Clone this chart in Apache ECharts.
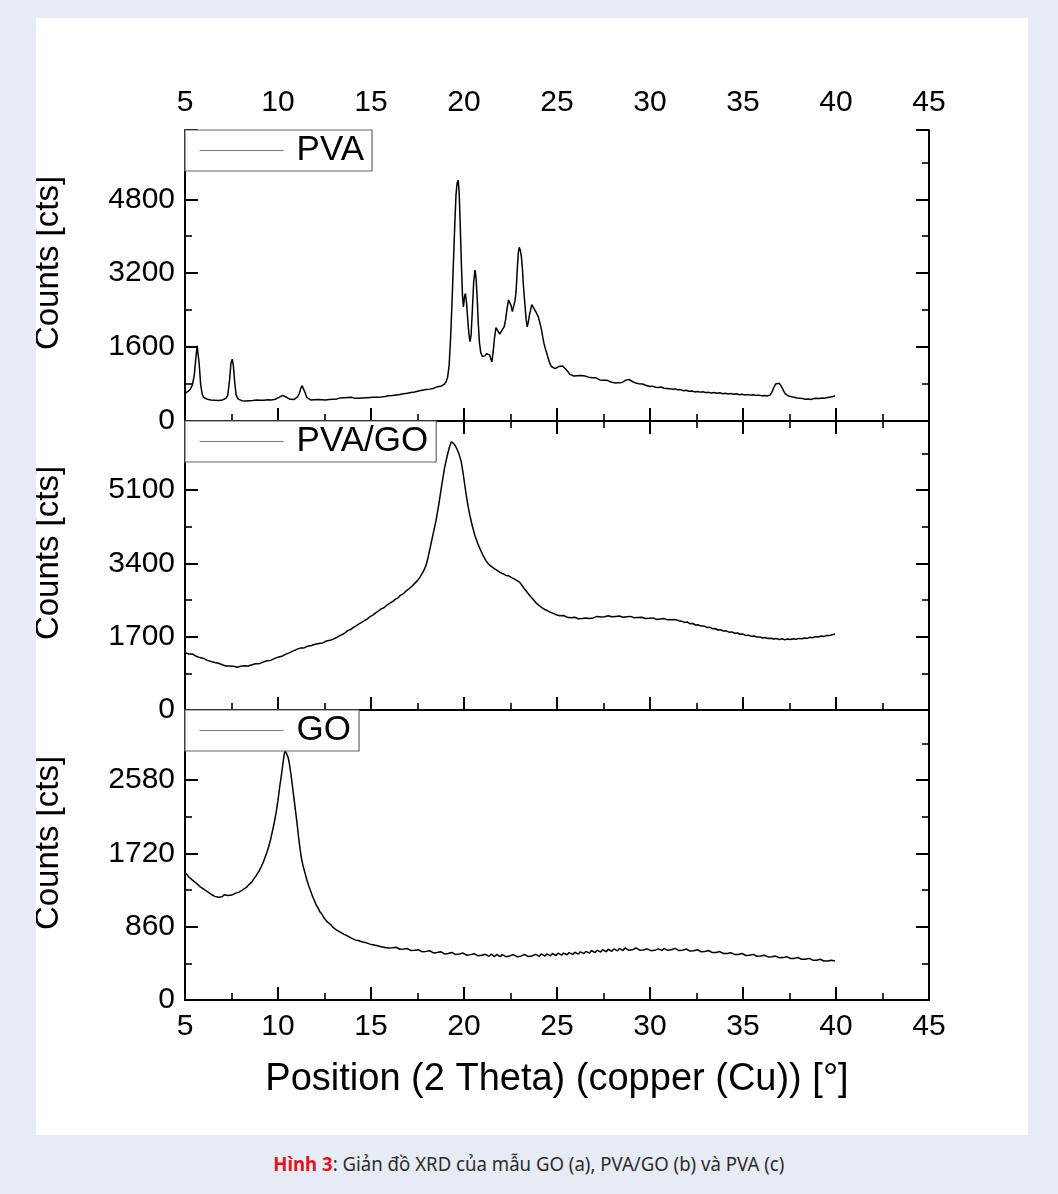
<!DOCTYPE html>
<html>
<head>
<meta charset="utf-8">
<script src="https://cdn.jsdelivr.net/npm/echarts@6/dist/echarts.min.js"></script>
<style>
  html, body { margin:0; padding:0; }
  body { width:1058px; height:1194px; background:#e7ebf5; position:relative; overflow:hidden; }
  #panel { position:absolute; left:36px; top:18px; width:992px; height:1117px; background:#fff; }
  #chart { position:absolute; left:0; top:0; width:992px; height:1117px; }
  #caption { position:absolute; left:0; top:1150px; width:1058px; text-align:center;
             font-family:"Noto Sans", sans-serif; font-size:20px; color:#2b2b2b; }
  #caption span.inner { display:inline-block; transform:scaleX(0.93); white-space:nowrap; }
  #caption b { color:#e3151c; }
</style>
</head>
<body>
<div id="panel"><div id="chart"></div></div>
<div id="caption"><span class="inner"><b>Hình 3</b>: Giản đồ XRD của mẫu GO (a), PVA/GO (b) và PVA (c)</span></div>
<script>
// ---- data (2θ in degrees, counts in cts) ----
const seriesNames = ['PVA', 'PVA/GO', 'GO'];
const xTicks = [5, 10, 15, 20, 25, 30, 35, 40, 45];
const yMaxes = [6300, 6700, 3400];
const yIntervals = [1600, 1700, 860];
const yTitle = 'Counts [cts]';
const xTitle = 'Position (2 Theta) (copper (Cu)) [°]';

const pvaData = [
[5.00,600],[5.10,610],[5.20,650],[5.30,700],[5.40,780],[5.50,1000],[5.58,1350],[5.65,1630],[5.70,1600],[5.76,1250],[5.84,800],[5.92,590],
[6.00,510],[6.10,490],[6.20,470],[6.30,480],[6.40,455],[6.50,470],[6.60,450],[6.70,465],[6.80,445],[6.90,460],[7.00,455],[7.10,470],[7.20,490],
[7.30,560],[7.40,900],[7.47,1250],[7.54,1340],[7.60,1200],[7.67,850],[7.75,560],[7.85,480],[7.95,455],[8.05,440],[8.15,455],[8.25,435],[8.35,450],
[8.45,440],[8.55,460],[8.65,445],[8.75,440],[8.85,455],[8.95,445],[9.05,450],[9.15,435],[9.25,450],[9.35,440],[9.45,460],[9.55,445],[9.65,455],
[9.75,465],[9.85,470],[9.95,490],[10.05,510],[10.15,530],[10.25,555],[10.35,545],[10.45,515],[10.55,480],[10.65,470],[10.75,455],[10.85,465],
[10.95,480],[11.05,520],[11.15,600],[11.22,700],[11.30,765],[11.37,730],[11.45,620],[11.55,510],[11.65,470],[11.75,455],[11.85,445],[11.95,460],
[12.05,450],[12.15,465],[12.25,445],[12.35,460],[12.45,470],[12.55,455],[12.65,475],[12.75,465],[12.85,480],[12.95,470],[13.05,490],[13.15,475],
[13.25,485],[13.35,500],[13.45,485],[13.55,505],[13.65,495],[13.75,510],[13.85,495],[13.95,515],[14.05,500],[14.15,490],[14.25,505],[14.35,495],
[14.45,510],[14.55,500],[14.65,490],[14.75,505],[14.85,495],[14.95,510],[15.05,500],[15.15,515],[15.25,525],[15.35,515],[15.45,530],[15.55,520],
[15.65,540],[15.75,530],[15.85,550],[15.95,545],[16.05,560],[16.15,550],[16.25,570],[16.35,565],[16.45,580],[16.55,575],[16.65,595],[16.75,590],
[16.85,605],[16.95,600],[17.05,620],[17.15,615],[17.25,640],[17.35,630],[17.45,660],[17.55,650],[17.65,675],[17.75,665],[17.85,690],[17.95,680],
[18.05,700],[18.15,690],[18.25,710],[18.35,705],[18.45,730],[18.55,740],[18.65,755],[18.75,750],[18.85,780],[18.95,800],[19.05,860],[19.12,950],
[19.20,1200],[19.28,1800],[19.35,2500],[19.42,3300],[19.50,4200],[19.57,4900],[19.63,5150],[19.69,5210],[19.74,4950],[19.80,4200],[19.86,3400],
[19.92,2700],[19.97,2470],[20.03,2700],[20.08,2760],[20.14,2550],[20.20,2200],[20.26,1900],[20.32,1720],[20.38,1850],[20.45,2400],[20.52,3000],
[20.59,3270],[20.65,3100],[20.71,2650],[20.77,2100],[20.83,1700],[20.90,1480],[20.98,1400],[21.05,1390],[21.13,1410],[21.22,1460],[21.30,1500],
[21.38,1430],[21.45,1330],[21.50,1280],[21.57,1500],[21.64,1800],[21.72,2020],[21.78,2030],[21.85,1930],[21.92,1880],[22.00,1920],[22.08,1990],
[22.16,2040],[22.24,2200],[22.32,2450],[22.40,2620],[22.46,2650],[22.53,2500],[22.60,2370],[22.67,2400],[22.74,2600],[22.80,2800],[22.86,3250],
[22.92,3650],[22.97,3760],[23.02,3700],[23.08,3580],[23.14,3300],[23.20,2900],[23.27,2550],[23.34,2200],[23.40,2040],[23.46,2150],[23.52,2300],
[23.58,2400],[23.64,2520],[23.70,2510],[23.76,2440],[23.82,2420],[23.88,2350],[23.94,2300],[24.00,2250],[24.06,2150],[24.12,2060],[24.18,1950],
[24.24,1800],[24.30,1680],[24.38,1560],[24.46,1450],[24.54,1340],[24.62,1240],[24.70,1180],[24.80,1140],[24.90,1135],[25.00,1160],[25.10,1180],
[25.20,1210],[25.30,1190],[25.40,1150],[25.50,1110],[25.60,1060],[25.70,1010],[25.80,990],[25.90,975],[26.00,990],[26.10,980],[26.20,1000],
[26.30,985],[26.40,995],[26.50,975],[26.60,965],[26.70,950],[26.80,960],[26.90,935],[27.00,925],[27.10,935],[27.20,905],[27.30,890],[27.40,900],
[27.50,880],[27.60,870],[27.70,880],[27.80,855],[27.90,845],[28.00,850],[28.10,825],[28.20,815],[28.30,830],[28.40,820],[28.50,835],[28.60,860],
[28.70,885],[28.80,905],[28.87,900],[28.95,880],[29.05,855],[29.15,840],[29.28,815],[29.40,805],[29.50,790],[29.60,800],[29.70,775],[29.80,770],
[29.90,760],[30.00,745],[30.15,755],[30.30,730],[30.45,725],[30.60,735],[30.75,710],[30.90,705],[31.05,700],[31.20,690],[31.35,695],[31.50,675],
[31.65,680],[31.80,655],[31.95,665],[32.10,645],[32.25,650],[32.40,630],[32.55,640],[32.70,625],[32.85,635],[33.00,615],[33.15,620],[33.30,605],
[33.45,615],[33.60,600],[33.75,610],[33.90,590],[34.05,600],[34.20,585],[34.35,595],[34.50,580],[34.65,590],[34.80,570],[34.95,580],[35.10,565],
[35.25,575],[35.40,560],[35.55,570],[35.70,555],[35.85,560],[36.00,545],[36.15,550],[36.30,541],[36.45,560],[36.55,620],[36.65,720],[36.75,800],
[36.85,830],[36.95,815],[37.05,760],[37.15,680],[37.25,600],[37.35,560],[37.45,540],[37.60,525],[37.75,515],[37.90,500],[38.05,495],[38.20,485],
[38.35,470],[38.50,475],[38.65,465],[38.80,485],[38.95,490],[39.10,485],[39.25,500],[39.40,495],[39.55,510],[39.70,520],[39.85,530],[39.95,547]
];

const pvaGoData = [
[5.00,1330],[5.10,1315],[5.20,1300],[5.30,1285],[5.40,1300],[5.50,1265],[5.60,1245],[5.70,1240],[5.80,1215],[5.90,1200],[6.00,1195],[6.10,1170],
[6.20,1150],[6.30,1160],[6.40,1125],[6.50,1110],[6.60,1100],[6.70,1080],[6.80,1085],[6.90,1055],[7.00,1050],[7.10,1045],[7.20,1020],[7.30,1030],
[7.40,1020],[7.50,1000],[7.60,1015],[7.70,1005],[7.80,990],[7.90,1010],[8.00,1015],[8.10,1005],[8.20,1025],[8.30,1030],[8.40,1020],[8.50,1040],
[8.60,1050],[8.70,1045],[8.80,1070],[8.90,1080],[9.00,1075],[9.10,1100],[9.20,1110],[9.30,1115],[9.40,1140],[9.50,1145],[9.60,1150],[9.70,1180],
[9.80,1190],[9.90,1200],[10.00,1225],[10.10,1240],[10.20,1245],[10.30,1270],[10.40,1290],[10.50,1305],[10.60,1325],[10.70,1350],[10.80,1365],
[10.90,1380],[11.00,1405],[11.10,1415],[11.20,1435],[11.30,1450],[11.40,1440],[11.50,1465],[11.60,1480],[11.70,1475],[11.80,1495],[11.90,1500],
[12.00,1525],[12.10,1520],[12.20,1540],[12.30,1565],[12.40,1555],[12.50,1575],[12.60,1600],[12.70,1590],[12.80,1615],[12.90,1640],[13.00,1650],
[13.15,1680],[13.30,1720],[13.45,1750],[13.60,1790],[13.75,1840],[13.90,1865],[14.05,1915],[14.20,1950],[14.35,1995],[14.50,2030],[14.65,2075],
[14.80,2110],[14.95,2165],[15.10,2200],[15.25,2250],[15.40,2295],[15.55,2345],[15.70,2370],[15.85,2430],[16.00,2470],[16.15,2510],[16.30,2565],
[16.45,2600],[16.60,2665],[16.75,2700],[16.90,2765],[17.05,2810],[17.20,2870],[17.35,2935],[17.50,3000],[17.65,3090],[17.80,3200],[17.95,3340],
[18.05,3500],[18.20,3800],[18.35,4100],[18.50,4400],[18.65,4780],[18.80,5200],[18.95,5600],[19.10,5900],[19.22,6100],[19.32,6220],[19.39,6250],
[19.46,6170],[19.54,6120],[19.62,6050],[19.69,5980],[19.77,5880],[19.85,5760],[19.93,5550],[20.02,5280],[20.12,4980],[20.22,4720],[20.32,4500],
[20.45,4260],[20.59,4040],[20.75,3850],[20.90,3700],[21.05,3560],[21.20,3450],[21.35,3370],[21.50,3320],[21.65,3270],[21.80,3230],[21.94,3190],
[22.10,3160],[22.25,3120],[22.40,3110],[22.56,3070],[22.70,3040],[22.85,3000],[23.00,2960],[23.15,2870],[23.30,2780],[23.45,2700],[23.60,2620],
[23.75,2550],[23.90,2470],[24.05,2420],[24.20,2370],[24.35,2330],[24.50,2300],[24.65,2265],[24.80,2240],[24.95,2210],[25.05,2200],[25.15,2185],
[25.25,2170],[25.35,2190],[25.45,2160],[25.55,2150],[25.65,2170],[25.75,2140],[25.85,2130],[25.95,2150],[26.05,2125],[26.15,2115],[26.25,2140],
[26.35,2120],[26.45,2105],[26.55,2135],[26.65,2130],[26.75,2120],[26.85,2150],[26.95,2135],[27.05,2145],[27.15,2170],[27.25,2150],[27.35,2155],
[27.45,2180],[27.55,2160],[27.65,2165],[27.75,2185],[27.85,2170],[27.95,2160],[28.05,2190],[28.15,2170],[28.25,2160],[28.35,2180],[28.45,2165],
[28.55,2150],[28.65,2175],[28.75,2160],[28.85,2145],[28.95,2170],[29.05,2155],[29.15,2140],[29.25,2160],[29.35,2145],[29.45,2130],[29.55,2150],
[29.65,2135],[29.75,2120],[29.85,2145],[29.95,2125],[30.05,2110],[30.15,2135],[30.25,2115],[30.35,2100],[30.45,2125],[30.55,2110],[30.65,2095],
[30.75,2120],[30.85,2100],[30.95,2090],[31.05,2110],[31.15,2095],[31.25,2080],[31.35,2100],[31.45,2085],[31.55,2070],[31.70,2060],[31.85,2030],
[32.00,2040],[32.15,2000],[32.30,2005],[32.45,1970],[32.60,1975],[32.75,1945],[32.90,1950],[33.05,1915],[33.20,1920],[33.35,1885],[33.50,1890],
[33.65,1855],[33.80,1860],[33.95,1830],[34.10,1835],[34.25,1805],[34.40,1810],[34.55,1780],[34.70,1785],[34.85,1755],[35.00,1760],[35.15,1730],
[35.30,1735],[35.45,1710],[35.60,1715],[35.75,1690],[35.90,1695],[36.05,1670],[36.20,1680],[36.35,1655],[36.50,1665],[36.65,1645],[36.80,1655],
[36.95,1635],[37.10,1650],[37.25,1630],[37.40,1645],[37.55,1635],[37.70,1650],[37.85,1640],[38.00,1660],[38.15,1650],[38.30,1670],[38.45,1660],
[38.60,1685],[38.75,1675],[38.90,1700],[39.05,1690],[39.20,1715],[39.35,1705],[39.50,1730],[39.65,1725],[39.80,1745],[39.95,1760]
];

const goData = [
[5.00,1496],[5.10,1470],[5.20,1445],[5.30,1430],[5.40,1405],[5.50,1395],[5.60,1370],[5.70,1355],[5.80,1330],[5.90,1320],[6.00,1300],[6.10,1285],
[6.20,1270],[6.30,1255],[6.40,1240],[6.50,1230],[6.60,1215],[6.70,1230],[6.80,1205],[6.90,1220],[7.00,1210],[7.10,1235],[7.20,1215],[7.30,1225],
[7.40,1205],[7.50,1230],[7.60,1225],[7.70,1250],[7.80,1240],[7.90,1265],[8.00,1270],[8.10,1290],[8.20,1305],[8.30,1320],[8.40,1345],[8.50,1360],
[8.60,1385],[8.70,1420],[8.80,1450],[8.90,1485],[9.00,1520],[9.10,1565],[9.20,1610],[9.30,1670],[9.40,1730],[9.50,1800],[9.60,1880],[9.70,1980],
[9.80,2080],[9.90,2200],[10.00,2340],[10.08,2480],[10.16,2600],[10.24,2730],[10.32,2860],[10.38,2930],[10.43,2950],[10.48,2920],[10.55,2840],
[10.62,2760],[10.70,2640],[10.78,2500],[10.86,2360],[10.94,2220],[11.02,2080],[11.10,1920],[11.18,1780],[11.26,1660],[11.35,1570],[11.45,1490],
[11.55,1410],[11.65,1340],[11.75,1280],[11.85,1220],[11.95,1170],[12.05,1115],[12.15,1080],[12.25,1035],[12.35,1010],[12.45,970],[12.55,950],
[12.65,915],[12.75,895],[12.85,880],[12.95,855],[13.05,845],[13.15,820],[13.25,815],[13.35,795],[13.45,790],[13.55,770],[13.65,775],[13.75,750],
[13.85,745],[13.95,725],[14.05,730],[14.15,705],[14.25,715],[14.35,695],[14.45,700],[14.55,680],[14.65,690],[14.75,670],[14.85,675],[14.95,655],
[15.05,665],[15.15,645],[15.25,655],[15.35,635],[15.45,645],[15.55,625],[15.65,635],[15.75,615],[15.85,630],[15.95,610],[16.05,625],[16.15,612],
[16.25,600],[16.35,618],[16.45,605],[16.55,595],[16.65,612],[16.75,598],[16.85,585],[16.95,603],[17.05,590],[17.15,580],[17.25,596],[17.35,584],
[17.45,572],[17.55,590],[17.65,576],[17.75,566],[17.85,584],[17.95,570],[18.05,560],[18.15,578],[18.25,563],[18.35,552],[18.45,570],[18.55,556],
[18.65,546],[18.75,566],[18.85,550],[18.95,540],[19.05,560],[19.15,546],[19.25,538],[19.35,558],[19.45,542],[19.55,533],[19.65,552],[19.75,540],
[19.85,530],[19.95,550],[20.05,536],[20.15,526],[20.25,546],[20.35,532],[20.45,522],[20.55,543],[20.65,528],[20.75,518],[20.85,540],[20.95,524],
[21.05,515],[21.15,536],[21.25,522],[21.35,512],[21.45,538],[21.55,520],[21.65,510],[21.75,534],[21.85,518],[21.95,508],[22.05,533],[22.15,517],
[22.25,508],[22.35,531],[22.45,515],[22.55,506],[22.65,533],[22.75,516],[22.85,508],[22.95,530],[23.05,514],[23.15,506],[23.25,534],[23.35,516],
[23.45,509],[23.55,531],[23.65,516],[23.75,510],[23.85,535],[23.95,520],[24.05,512],[24.15,540],[24.25,522],[24.35,515],[24.45,540],[24.55,525],
[24.65,518],[24.75,545],[24.85,530],[24.95,522],[25.05,550],[25.15,534],[25.25,526],[25.35,550],[25.45,537],[25.55,530],[25.65,556],[25.75,541],
[25.85,534],[25.95,560],[26.05,546],[26.15,538],[26.25,565],[26.35,551],[26.45,544],[26.55,570],[26.65,556],[26.75,550],[26.85,580],[26.95,562],
[27.05,556],[27.15,585],[27.25,567],[27.35,562],[27.45,590],[27.55,572],[27.65,566],[27.75,595],[27.85,577],[27.95,570],[28.05,600],[28.15,582],
[28.25,576],[28.35,605],[28.45,586],[28.55,580],[28.65,610],[28.75,591],[28.85,584],[28.95,605],[29.05,588],[29.15,582],[29.25,610],[29.35,591],
[29.45,584],[29.55,605],[29.65,587],[29.75,580],[29.85,600],[29.95,583],[30.05,578],[30.15,600],[30.25,582],[30.35,577],[30.45,600],[30.55,586],
[30.65,580],[30.75,605],[30.85,587],[30.95,582],[31.05,600],[31.15,590],[31.25,584],[31.35,605],[31.45,588],[31.55,580],[31.65,600],[31.75,583],
[31.85,576],[31.95,598],[32.05,580],[32.15,574],[32.25,595],[32.35,578],[32.45,570],[32.55,590],[32.65,572],[32.75,566],[32.85,585],[32.95,568],
[33.05,561],[33.15,580],[33.25,563],[33.35,556],[33.45,575],[33.55,558],[33.65,551],[33.75,568],[33.85,551],[33.95,545],[34.05,562],[34.15,546],
[34.25,540],[34.35,555],[34.45,539],[34.55,532],[34.65,550],[34.75,534],[34.85,527],[34.95,545],[35.05,529],[35.15,522],[35.25,540],[35.35,524],
[35.45,518],[35.55,535],[35.65,519],[35.75,513],[35.85,530],[35.95,515],[36.05,509],[36.15,525],[36.25,510],[36.35,505],[36.45,520],[36.55,506],
[36.65,500],[36.75,515],[36.85,500],[36.95,495],[37.05,512],[37.15,497],[37.25,491],[37.35,508],[37.45,493],[37.55,487],[37.65,505],[37.75,488],
[37.85,482],[37.95,498],[38.05,483],[38.15,478],[38.25,492],[38.35,477],[38.45,472],[38.55,488],[38.65,472],[38.75,467],[38.85,482],[38.95,467],
[39.05,462],[39.15,478],[39.25,462],[39.35,457],[39.45,472],[39.55,456],[39.65,452],[39.75,466],[39.85,450],[39.95,457]
];

// ---- chart ----
const FONT = '"Liberation Sans", Arial, sans-serif';
const chart = echarts.init(document.getElementById('chart'), null, {renderer: 'canvas'});
const seriesData = [pvaData, pvaGoData, goData];

const grids = [
  {left: 149, top: 112, width: 744, height: 291},
  {left: 149, top: 403, width: 744, height: 289},
  {left: 149, top: 692, width: 744, height: 290}
];

const axisLineStyle = {show: true, lineStyle: {color: '#000', width: 2}};
const tickStyle = {show: true, inside: true, length: 13, lineStyle: {color: '#000', width: 2}};
const minorStyle = {show: true, splitNumber: 2, length: 7, lineStyle: {color: '#000', width: 1.6}};
const plainNumber = v => String(v);

const xAxes = [];
const yAxes = [];
grids.forEach((g, i) => {
  xAxes.push({
    type: 'value', gridIndex: i, position: 'bottom', min: xTicks[0], max: xTicks[xTicks.length - 1], interval: 5,
    axisLine: axisLineStyle, axisTick: tickStyle, minorTick: minorStyle, splitLine: {show: false},
    axisLabel: {show: i === 2, color: '#000', fontSize: 30, fontFamily: FONT, margin: 12, formatter: plainNumber},
    name: i === 2 ? xTitle : '', nameLocation: 'middle', nameGap: 61,
    nameTextStyle: {color: '#000', fontSize: 38, fontFamily: FONT}
  });
  yAxes.push({
    type: 'value', gridIndex: i, position: 'left', min: 0, max: yMaxes[i], interval: yIntervals[i],
    axisLine: axisLineStyle, axisTick: tickStyle, minorTick: minorStyle, splitLine: {show: false},
    axisLabel: {color: '#000', fontSize: 30, fontFamily: FONT, margin: 10, showMaxLabel: false, formatter: plainNumber}
  });
  yAxes.push({
    type: 'value', gridIndex: i, position: 'right', min: 0, max: yMaxes[i], interval: yIntervals[i],
    axisLine: axisLineStyle, axisTick: tickStyle, minorTick: minorStyle, splitLine: {show: false},
    axisLabel: {show: false}
  });
});
xAxes.push({
  type: 'value', gridIndex: 0, position: 'top', min: xTicks[0], max: xTicks[xTicks.length - 1], interval: 5,
  axisLine: axisLineStyle, axisTick: tickStyle, minorTick: minorStyle, splitLine: {show: false},
  axisLabel: {show: true, color: '#000', fontSize: 30, fontFamily: FONT, margin: 12, formatter: plainNumber}
});

const series = seriesData.map((d, i) => ({
  name: seriesNames[i], type: 'line', xAxisIndex: i, yAxisIndex: i * 2,
  data: d, showSymbol: false, symbol: 'none', smooth: false,
  lineStyle: {color: '#000', width: 1.5}, itemStyle: {color: '#000'}
}));

const legends = grids.map((g, i) => ({
  data: [seriesNames[i]], left: g.left, top: g.top, orient: 'horizontal',
  backgroundColor: '#fff', borderColor: '#666', borderWidth: 1.2, padding: [3, 8, 3, 14],
  itemWidth: 84, itemHeight: 14, selectedMode: false,
  itemStyle: {opacity: 0},
  lineStyle: {color: '#777', width: 1.2, opacity: 1},
  textStyle: {color: '#000', fontSize: 35, fontFamily: FONT, padding: [0, 0, 0, 8]}
}));

const titleCentres = [245, 535, 825];
const graphic = titleCentres.map(y => ({
  type: 'text', x: 29, y: y, rotation: Math.PI / 2, silent: true,
  style: {text: yTitle, fill: '#000', fontSize: 33, fontFamily: FONT, align: 'center', verticalAlign: 'bottom'}
}));

chart.setOption({
  animation: false,
  backgroundColor: '#fff',
  grid: grids,
  xAxis: xAxes,
  yAxis: yAxes,
  legend: legends,
  graphic: graphic,
  series: series
});
</script>
</body>
</html>
